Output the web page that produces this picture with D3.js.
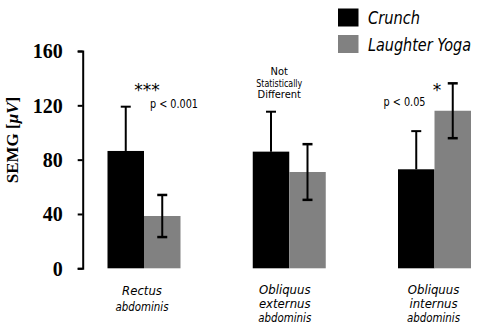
<!DOCTYPE html>
<html><head><meta charset="utf-8">
<script src="https://cdnjs.cloudflare.com/ajax/libs/d3/7.8.5/d3.min.js"></script>
<style>
html,body{margin:0;padding:0;background:#fff;}
svg{display:block;}
</style></head>
<body>
<svg id="chart" width="490" height="333"></svg>
<script>
// ---- data ----
const muscles = [["Rectus","abdominis"],["Obliquus","externus","abdominis"],["Obliquus","internus","abdominis"]];
const seriesNames = ["Crunch","Laughter Yoga"];
const crunchMean = [86.4, 85.9, 72.9];
const crunchSD   = [32.6, 29.4, 28.1];
const yogaMean   = [38.5, 70.9, 116.0];
const yogaSD     = [15.5, 20.5, 20.2];
const yTicks     = [0, 40, 80, 120, 160];
const yLabel     = "SEMG [";
const yUnit      = "\u03bcV";
const significance = ["***", "", "*"];
const pTexts = ["p < 0.001", "", "p < 0.05"];
const nsText = ["Not","Statistically","Different"];

// ---- layout ----
const svg = d3.select("#chart");
const colors = ["#000000", "#818181"];
const scriptFont = "'DejaVu Sans Condensed','DejaVu Sans',sans-serif";
const noteFont = "'DejaVu Sans Condensed','DejaVu Sans',sans-serif";

const y = d3.scaleLinear().domain([0,160]).range([268.3, 51]);
const xc = d3.scalePoint().domain(d3.range(muscles.length)).range([144, 434.5]);
const bw = 36.5;

// fit a text node to a target width (compress only)
function fit(sel, w){
  sel.each(function(){
    const L = this.getComputedTextLength();
    if (L > w) d3.select(this).attr("textLength", w).attr("lengthAdjust","spacingAndGlyphs");
  });
}

// y axis
const axisG = svg.append("g").attr("transform","translate(82.7,0)")
  .call(d3.axisLeft(y).tickValues(yTicks).tickSize(5).tickSizeOuter(5).tickPadding(15).tickFormat(d3.format("d")));
axisG.select(".domain").attr("stroke","#000").attr("stroke-width",2);
axisG.selectAll(".tick line").attr("stroke","#000").attr("stroke-width",2);
axisG.selectAll(".tick text").attr("font-family","'Liberation Serif','Times New Roman',serif")
  .attr("font-weight","bold").attr("font-size",20).attr("fill","#000").attr("dy","0.34em");

// y label
const yl = svg.append("text").attr("transform","translate(18,140) rotate(-90)")
  .attr("text-anchor","middle").attr("font-family","'Liberation Serif',serif")
  .attr("font-weight","bold").attr("font-size",17).attr("fill","#000");
yl.append("tspan").text(yLabel);
yl.append("tspan").attr("font-style","italic").text(yUnit);
yl.append("tspan").text("]");

// bars
const data = muscles.map((m,i)=>({i, vals:[crunchMean[i], yogaMean[i]], sds:[crunchSD[i], yogaSD[i]]}));
const g = svg.selectAll("g.grp").data(data).enter().append("g").attr("class","grp");
[0,1].forEach(s=>{
  g.append("rect")
    .attr("x", d=> xc(d.i) - bw + s*bw)
    .attr("y", d=> y(d.vals[s]))
    .attr("width", bw)
    .attr("height", d=> y(0) - y(d.vals[s]))
    .attr("fill", colors[s]);
});
// error bars
const cap = 5;
g.each(function(d){
  const gg = d3.select(this);
  const cx0 = xc(d.i) - bw/2;
  gg.append("line").attr("x1",cx0).attr("x2",cx0).attr("y1",y(d.vals[0])).attr("y2",y(d.vals[0]+d.sds[0])).attr("stroke","#000").attr("stroke-width",2);
  gg.append("line").attr("x1",cx0-cap).attr("x2",cx0+cap).attr("y1",y(d.vals[0]+d.sds[0])).attr("y2",y(d.vals[0]+d.sds[0])).attr("stroke","#000").attr("stroke-width",2);
  const cx1 = xc(d.i) + bw/2;
  gg.append("line").attr("x1",cx1).attr("x2",cx1).attr("y1",y(d.vals[1]-d.sds[1])).attr("y2",y(d.vals[1]+d.sds[1])).attr("stroke","#000").attr("stroke-width",2);
  [d.vals[1]-d.sds[1], d.vals[1]+d.sds[1]].forEach(v=>{
    gg.append("line").attr("x1",cx1-cap).attr("x2",cx1+cap).attr("y1",y(v)).attr("y2",y(v)).attr("stroke","#000").attr("stroke-width",2.5);
  });
});

// x labels (each line its own text element)
muscles.forEach((lines,i)=>{
  const lh = lines.length===2 ? 16 : 14;
  const y0 = lines.length===2 ? 295 : 293.5;
  const cx = xc(i) - (i===0?2:i===1?4.5:1);
  lines.forEach((ln,k)=>{
    svg.append("text").attr("text-anchor","middle")
      .attr("font-family",scriptFont).attr("font-style","italic")
      .attr("font-size",13).attr("fill","#000")
      .attr("x", cx).attr("y", y0 + k*lh).text(ln)
      .call(fit, ln.length>=8 ? 53 : 42);
  });
});

// significance annotations
significance.forEach((s,i)=>{
  if(!s) return;
  svg.append("text").attr("x", xc(i)+(i===0?3:2.5)).attr("y", 96).attr("text-anchor","middle")
    .attr("font-family","'DejaVu Sans',sans-serif").attr("font-size",17).attr("fill","#000").text(s);
  svg.append("text").attr("x", i===0 ? xc(i)+6 : xc(i)-51).attr("y", i===0?107.5:106)
    .attr("font-family",noteFont).attr("font-size",12).attr("fill","#000").text(pTexts[i])
    .call(fit, i===0 ? 48 : 42);
});
nsText.forEach((ln,k)=> svg.append("text").attr("text-anchor","middle").attr("font-family",noteFont)
  .attr("font-size",11).attr("fill","#000").attr("x", xc(1)-10).attr("y", 75 + k*11.5).text(ln)
  .call(fit, ln.length>8 ? 46 : 36));

// legend
seriesNames.forEach((n,k)=>{
  svg.append("rect").attr("x",338).attr("y",8.5 + k*26.5).attr("width",20.5).attr("height",18).attr("fill",colors[k]);
  svg.append("text").attr("x",368).attr("y",24 + k*26.5).attr("font-family",scriptFont).attr("font-style","italic")
    .attr("font-size",17).attr("fill","#000").text(n).call(fit, k===0?52:103);
});
</script>
</body></html>
